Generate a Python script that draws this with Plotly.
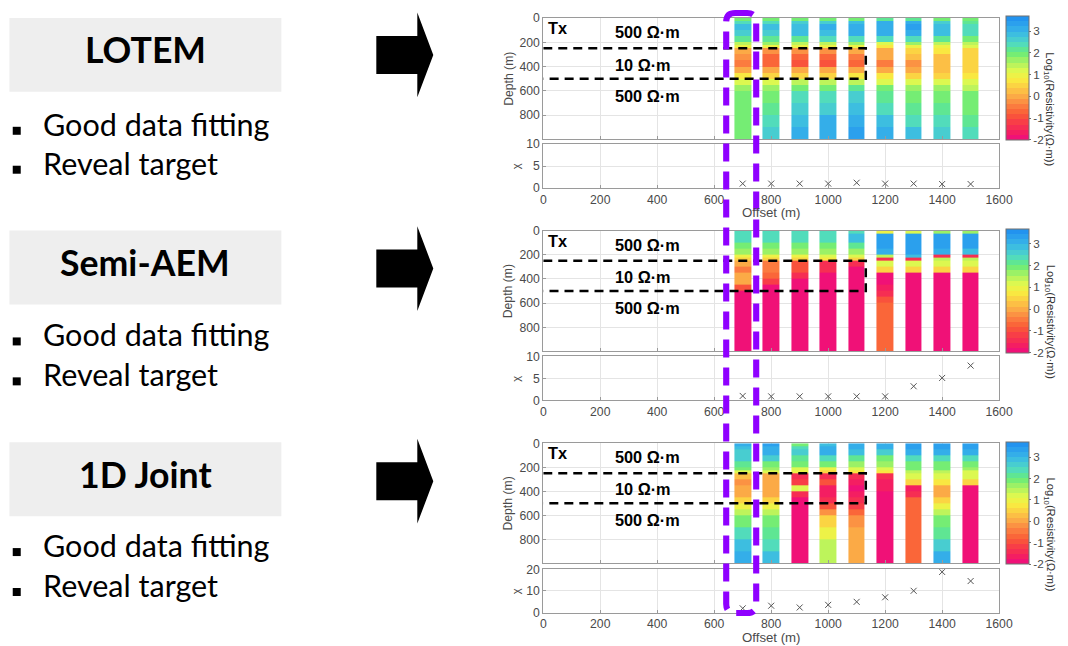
import plotly.graph_objects as go

W, H = 1068, 646

# ---------------- data ----------------
offsets = [700, 800, 900, 1000, 1100, 1200, 1300, 1400, 1500]
offset_ticks = [0, 200, 400, 600, 800, 1000, 1200, 1400, 1600]
depth_ticks = [0, 200, 400, 600, 800]
depth_edges = [0, 25, 50, 100, 150, 200, 225, 250, 300, 350, 400, 450, 500, 550, 600, 700, 800, 900, 1000]
cb_ticks = [-2, -1, 0, 1, 2, 3]
cb_ticktext = ["-2", "-1", "0", "1", "2", "3"]

# log10 resistivity, one list per offset (top -> bottom, one value per layer)
lotem_logrho = [
    [2.0, 2.3, 2.8, 2.7, 2.2, 1.5, 1.0, -0.1, -0.2, -0.4, 0.1, 0.7, 1.2, 1.6, 1.9, 2.0, 2.0, 2.0],
    [2.0, 2.4, 2.8, 2.7, 2.2, 1.6, 1.0, -0.3, -0.7, -0.8, -0.1, 0.6, 1.3, 1.7, 2.0, 2.2, 2.5, 2.6],
    [2.0, 2.6, 2.9, 2.8, 2.2, 1.5, 0.9, -0.3, -0.6, -0.9, -0.1, 0.6, 1.4, 1.9, 2.3, 2.6, 2.9, 3.1],
    [2.0, 2.7, 3.0, 2.9, 2.3, 1.5, 0.9, -0.2, -0.6, -1.0, -0.1, 0.6, 1.4, 2.0, 2.4, 2.7, 3.0, 3.2],
    [2.0, 2.8, 3.1, 3.0, 2.4, 1.6, 0.9, -0.1, -0.4, -0.6, 0.0, 0.7, 1.5, 2.1, 2.6, 2.9, 3.2, 3.4],
    [2.1, 3.0, 3.2, 3.1, 2.3, 1.2, 0.8, 0.1, -0.1, -0.4, 0.0, 0.7, 1.3, 1.8, 2.2, 2.5, 2.8, 3.0],
    [2.1, 3.0, 3.3, 3.2, 2.4, 1.6, 1.0, 0.5, 0.2, -0.2, 0.1, 0.6, 1.2, 1.6, 1.9, 2.2, 2.5, 2.8],
    [2.0, 2.6, 2.9, 2.8, 2.1, 1.4, 1.0, 0.7, 0.3, 0.2, 0.3, 0.6, 1.2, 1.6, 1.9, 2.1, 2.4, 2.6],
    [2.0, 2.2, 2.5, 2.4, 2.0, 1.5, 1.1, 0.6, 0.5, 0.4, 0.5, 0.8, 1.1, 1.5, 1.8, 1.9, 2.2, 2.4],
]
semi_logrho = [
    [2.5, 2.5, 2.5, 2.0, 1.6, 1.0, 0.6, 0.0, -0.4, -0.1, -0.1, -0.9, -2.0, -2.0, -2.0, -2.0, -2.0, -2.0],
    [2.5, 2.5, 2.5, 2.0, 1.6, 1.0, 0.5, -0.5, -0.5, -0.6, -1.2, -2.0, -2.0, -2.0, -2.0, -2.0, -2.0, -2.0],
    [2.5, 2.5, 2.4, 2.0, 1.6, 1.0, 0.6, -0.9, -0.9, -1.3, -1.8, -2.0, -2.0, -2.0, -2.0, -2.0, -2.0, -2.0],
    [2.5, 2.5, 2.4, 2.0, 1.6, 1.1, 0.7, -1.4, -1.5, -1.9, -2.0, -2.0, -2.0, -2.0, -2.0, -2.0, -2.0, -2.0],
    [2.5, 2.8, 2.8, 2.1, 1.7, 1.1, 0.4, -1.4, -1.9, -2.0, -2.0, -2.0, -2.0, -2.0, -2.0, -2.0, -2.0, -2.0],
    [1.0, 3.4, 3.4, 3.4, 3.0, 1.5, -1.5, 1.2, 0.6, -2.0, -2.0, -1.7, -1.5, -1.0, -0.8, -0.8, -0.8, -0.8],
    [1.3, 3.4, 3.4, 3.4, 3.3, 2.8, -1.4, 1.2, 0.6, -2.0, -2.0, -2.0, -2.0, -2.0, -2.0, -2.0, -2.0, -2.0],
    [1.6, 3.4, 3.4, 3.4, 3.1, -1.3, 1.4, 1.2, 0.6, -2.0, -2.0, -2.0, -2.0, -2.0, -2.0, -2.0, -2.0, -2.0],
    [1.6, 3.3, 3.4, 3.3, 2.9, -1.3, 1.5, 1.3, 0.6, -2.0, -2.0, -2.0, -2.0, -2.0, -2.0, -2.0, -2.0, -2.0],
]
joint_logrho = [
    [3.1, 2.9, 2.7, 2.6, 2.1, 1.8, 1.3, 0.2, -0.2, 0.1, 0.1, 0.4, 0.9, 1.4, 1.9, 2.4, 2.8, 3.1],
    [3.3, 3.2, 3.1, 2.7, 2.0, 1.7, 1.1, 0.0, -0.1, 0.0, 0.1, 0.4, 0.9, 1.5, 1.9, 2.1, 2.5, 2.8],
    [2.0, 2.3, 2.7, 2.2, 1.8, 1.3, 1.0, -1.4, -1.2, 1.3, -1.5, -1.9, -1.9, -1.9, -1.9, -1.9, -1.9, -1.9],
    [2.8, 3.1, 3.0, 2.3, 1.8, 1.0, 0.6, -1.4, -0.9, -1.7, -1.7, -1.4, -0.9, -0.2, 0.5, 1.0, 1.4, 1.5],
    [3.1, 3.2, 2.8, 2.2, 1.7, 1.2, 0.8, -1.5, -1.6, -1.8, -1.7, -1.4, -1.1, -0.7, -0.3, -0.1, 0.1, 0.1],
    [3.1, 3.0, 2.6, 2.0, 1.6, 1.2, 0.7, -1.5, -1.6, -1.7, -1.8, -1.8, -1.8, -1.8, -1.8, -1.8, -1.8, -1.8],
    [3.4, 3.4, 3.2, 2.4, 1.9, 1.8, 1.5, 1.2, 0.6, -1.7, -1.4, -0.6, -0.6, -0.6, -0.6, -0.6, -0.6, -0.6],
    [3.4, 3.4, 3.2, 2.4, 2.0, 1.8, 1.4, 1.2, 0.7, 0.1, 0.1, 0.4, 0.9, 1.4, 1.9, 2.2, 2.7, 3.1],
    [3.3, 3.3, 3.0, 2.3, 1.9, 1.6, 1.3, 1.1, 0.5, -1.8, -1.8, -1.8, -1.8, -1.8, -1.8, -1.9, -2.0, -2.0],
]

# data misfit chi per offset
lotem_chi = [1.0, 1.0, 1.0, 1.0, 1.2, 1.0, 1.0, 0.9, 0.9]
semi_chi = [1.0, 0.9, 0.9, 0.9, 0.9, 0.9, 3.2, 5.1, 7.9]
joint_chi = [2.0, 3.2, 2.4, 3.6, 5.0, 7.1, 10.1, 18.8, 14.6]
chi_ranges = [[0, 10], [0, 10], [0, 20]]
chi_ticks = [[0, 5, 10], [0, 5, 10], [0, 10, 20]]

# true model
target_top, target_bottom, target_right = 250, 500, 1132
model_labels = ["500 Ω·m", "10 Ω·m", "500 Ω·m"]
model_label_depths = [115, 385, 640]

methods = ["LOTEM", "Semi-AEM", "1D Joint"]
bullets = ["Good data fitting", "Reveal target"]

# ---------------- style helpers ----------------
# the rendered page comes out slightly scaled; positions below are given in
# target-picture pixels and converted to figure pixels here
SX, BX, SY, BY = 0.9844, 2.56, 0.98, 6.0
S = 1 / 0.982


def fx(xr):
    return ((xr - BX) / SX) / W


def fy(yr):
    return 1 - ((yr - BY) / SY) / H


anchors = [
    (-2.0, (238, 10, 130)), (-1.6, (245, 32, 94)), (-1.2, (248, 60, 72)),
    (-0.8, (250, 92, 54)), (-0.4, (251, 128, 64)), (0.0, (251, 168, 70)),
    (0.4, (252, 204, 68)), (0.8, (248, 238, 64)), (1.2, (221, 248, 80)),
    (1.6, (168, 242, 98)), (2.0, (104, 236, 120)), (2.4, (82, 220, 188)),
    (2.8, (64, 194, 222)), (3.2, (48, 168, 236)), (3.7, (30, 140, 240)),
]
zmin, zmax = -2.0, 3.7


def color_at(v):
    for (v0, c0), (v1, c1) in zip(anchors[:-1], anchors[1:]):
        if v <= v1:
            t = (v - v0) / (v1 - v0)
            return "rgb(%d,%d,%d)" % tuple(round(a + (b - a) * t) for a, b in zip(c0, c1))
    return "rgb(%d,%d,%d)" % anchors[-1][1]


nb = 24
colorscale = []
for k in range(nb):
    c = color_at(zmin + (k + 0.5) * (zmax - zmin) / nb)
    colorscale.append([k / nb, c])
    colorscale.append([(k + 1) / nb, c])

col_w = 58
x_edges = []
for o in offsets:
    x_edges += [o - col_w / 2, o + col_w / 2]

FONT = "Liberation Sans, Arial"
tick_font = dict(family=FONT, size=12 * S, color="#4a4a4a")
cb_font = dict(family=FONT, size=11.5 * S, color="#4a4a4a")
axis_common = dict(showline=True, mirror=True, linecolor="#9a9a9a", linewidth=1,
                   gridcolor="#e4e4e4", zeroline=False, ticks="inside", ticklen=3,
                   tickcolor="#9a9a9a", tickfont=tick_font)

heat_px = [(17, 138.5), (230, 351), (443, 563.3)]
chi_px = [(143.3, 187.3), (356, 400), (569.3, 612.7)]
cb_px = [(16, 138), (229, 351), (443, 563)]
xdom = [fx(543), fx(999)]

fig = go.Figure()
layout = dict(width=W, height=H, margin=dict(l=0, r=0, t=0, b=0),
              paper_bgcolor="white", plot_bgcolor="white", showlegend=False)
annotations = []
shapes = []

for p, (logrho, chi) in enumerate(zip([lotem_logrho, semi_logrho, joint_logrho],
                                      [lotem_chi, semi_chi, joint_chi])):
    hx, hy = 2 * p + 1, 2 * p + 1
    cx, cy = 2 * p + 2, 2 * p + 2
    nlay = len(depth_edges) - 1
    z = []
    for i in range(nlay):
        row = []
        for j, col in enumerate(logrho):
            row.append(col[i])
            if j < len(logrho) - 1:
                row.append(None)
        z.append(row)
    cbt, cbb = cb_px[p]
    fig.add_trace(go.Heatmap(
        x=x_edges, y=depth_edges, z=z, zmin=zmin, zmax=zmax, colorscale=colorscale,
        xaxis="x%d" % hx, yaxis="y%d" % hy, hoverinfo="skip",
        colorbar=dict(x=fx(1006), xanchor="left", y=fy((cbt + cbb) / 2), yanchor="middle",
                      len=(cbb - cbt) / SY, lenmode="pixels", thickness=23 / SX,
                      thicknessmode="pixels", outlinewidth=1, outlinecolor="#707070",
                      tickvals=cb_ticks, ticktext=cb_ticktext, ticks="outside", ticklen=2,
                      tickcolor="#707070", tickfont=cb_font, xpad=0, ypad=0)))
    # target box
    fig.add_trace(go.Scatter(
        x=[0, target_right, target_right, 0], y=[target_top, target_top, target_bottom, target_bottom],
        mode="lines", line=dict(color="black", width=2.5, dash="9px,6px"),
        xaxis="x%d" % hx, yaxis="y%d" % hy, hoverinfo="skip"))
    # misfit
    fig.add_trace(go.Scatter(
        x=offsets, y=chi, mode="markers",
        marker=dict(symbol="x-thin", size=6, line=dict(width=1, color="#555555")),
        xaxis="x%d" % cx, yaxis="y%d" % cy, hoverinfo="skip"))

    ht, hb = heat_px[p]
    ct, cbm = chi_px[p]
    layout["xaxis%d" % hx] = dict(axis_common, domain=xdom, range=[0, 1600], anchor="y%d" % hy,
                                  tickvals=offset_ticks, showticklabels=False)
    layout["yaxis%d" % hy] = dict(axis_common, domain=[fy(hb), fy(ht)], range=[1000, 0],
                                  anchor="x%d" % hx, tickvals=depth_ticks)
    layout["xaxis%d" % cx] = dict(axis_common, domain=xdom, range=[0, 1600], anchor="y%d" % cy,
                                  tickvals=offset_ticks)
    layout["yaxis%d" % cy] = dict(axis_common, domain=[fy(cbm), fy(ct)], range=chi_ranges[p],
                                  anchor="x%d" % cx, tickvals=chi_ticks[p])

    # in-axes text
    annotations.append(dict(text="<b>Tx</b>", x=10, y=85, xref="x%d" % hx, yref="y%d" % hy,
                            xanchor="left", yanchor="middle", showarrow=False,
                            font=dict(family=FONT, size=16 * S, color="black")))
    for lab, d in zip(model_labels, model_label_depths):
        annotations.append(dict(text="<b>%s</b>" % lab, x=246, y=d, xref="x%d" % hx, yref="y%d" % hy,
                                xanchor="left", yanchor="middle", showarrow=False,
                                font=dict(family=FONT, size=16 * S, color="black")))
    # axis titles
    annotations.append(dict(text="Depth (m)", x=fx(508), y=fy((ht + hb) / 2), xref="paper", yref="paper",
                            textangle=-90, showarrow=False, xanchor="center", yanchor="middle",
                            font=dict(family=FONT, size=12 * S, color="#4a4a4a")))
    annotations.append(dict(text="χ", x=fx(516), y=fy((ct + cbm) / 2), xref="paper", yref="paper",
                            textangle=-90, showarrow=False, xanchor="center", yanchor="middle",
                            font=dict(family=FONT, size=11 * S, color="#4a4a4a")))
    annotations.append(dict(text="Log<sub>10</sub>(Resistivity(Ω·m))", x=fx(1049.5),
                            y=fy((cbt + cbb) / 2 + 31), xref="paper", yref="paper",
                            textangle=90, showarrow=False, xanchor="center", yanchor="middle",
                            font=dict(family=FONT, size=11 * S, color="#333333")))
    if p != 1:
        annotations.append(dict(text="Offset (m)", x=fx(771), y=fy(cbm + 25), xref="paper", yref="paper",
                                showarrow=False, xanchor="center", yanchor="middle",
                                font=dict(family=FONT, size=13 * S, color="#4a4a4a")))

# ---------------- left-hand panels ----------------
box_tops = [17, 230, 442]
bullet_centers = [[126, 165], [337, 377], [548, 588]]
text_shift = -2.5
arrow_centers = [54, 268, 481]
for p, name in enumerate(methods):
    bt = box_tops[p]
    shapes.append(dict(type="rect", xref="paper", yref="paper", x0=fx(9), x1=fx(281),
                       y0=fy(bt + 74), y1=fy(bt), fillcolor="#eeeeee", line=dict(width=0), layer="below"))
    annotations.append(dict(text="<b>%s</b>" % name, x=fx(145), y=fy(bt + 32), xref="paper", yref="paper",
                            showarrow=False, xanchor="center", yanchor="middle",
                            font=dict(family="Lato", size=35 * S, color="black")))
    for b, txt in enumerate(bullets):
        c = bullet_centers[p][b]
        shapes.append(dict(type="rect", xref="paper", yref="paper", x0=fx(12.3), x1=fx(20.3),
                           y0=fy(c + 8), y1=fy(c), fillcolor="black", line=dict(width=0)))
        annotations.append(dict(text=txt, x=fx(41), y=fy(c + text_shift), xref="paper", yref="paper",
                                showarrow=False, xanchor="left", yanchor="middle",
                                font=dict(family="Lato", size=30 * S, color="black")))
    ac = arrow_centers[p]
    pts = [(376, ac - 19), (417, ac - 19), (417, ac - 42.5), (433, ac), (417, ac + 42.5),
           (417, ac + 19), (376, ac + 19)]
    path = "M " + " L ".join("%.5f,%.5f" % (fx(a), fy(b)) for a, b in pts) + " Z"
    shapes.append(dict(type="path", xref="paper", yref="paper", path=path,
                       fillcolor="black", line=dict(width=0)))

# purple dashed rounded rectangle
x0, x1, y0, y1, r = 726, 756, 12, 613, 9
seq = [("M", (x0 + r, y0)), ("L", (x1 - r, y0)), ("Q", (x1, y0), (x1, y0 + r)),
       ("L", (x1, y1 - r)), ("Q", (x1, y1), (x1 - r, y1)), ("L", (x0 + r, y1)),
       ("Q", (x0, y1), (x0, y1 - r)), ("L", (x0, y0 + r)), ("Q", (x0, y0), (x0 + r, y0))]
path = ""
for item in seq:
    path += item[0] + " " + " ".join("%.5f,%.5f" % (fx(a), fy(b)) for a, b in item[1:]) + " "
path += "Z"
shapes.append(dict(type="path", xref="paper", yref="paper", path=path,
                   line=dict(color="#8f00ff", width=6 * S, dash="18px,10px")))

layout["annotations"] = annotations
layout["shapes"] = shapes
fig.update_layout(**layout)
fig.write_html("out.html")
